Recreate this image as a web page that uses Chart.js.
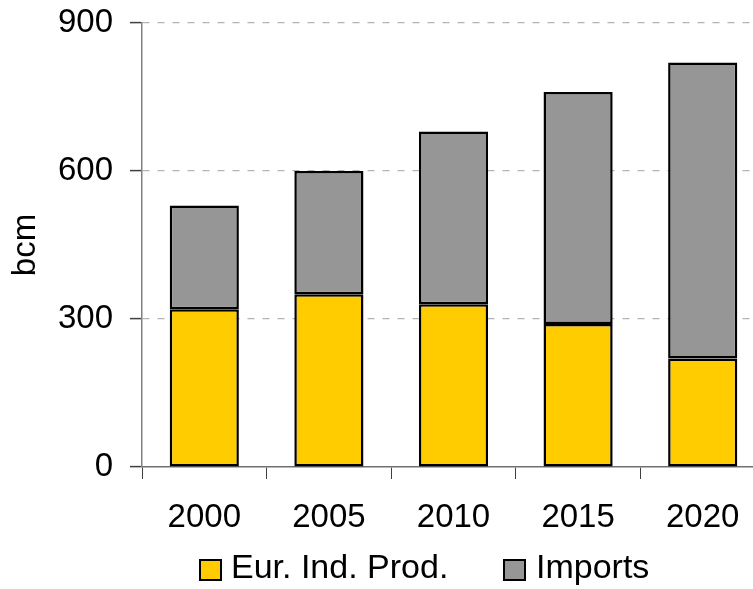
<!DOCTYPE html>
<html>
<head>
<meta charset="utf-8">
<script src="https://cdn.jsdelivr.net/npm/chart.js@4/dist/chart.umd.min.js"></script>
<style>
  html, body { margin: 0; padding: 0; background: #fff; overflow: hidden; }
  #wrap { position: relative; width: 765px; height: 589px; }
</style>
</head>
<body>
<div id="wrap"><canvas id="c"></canvas></div>
<script>
const categories = ['2000', '2005', '2010', '2015', '2020'];
const productionValues = [320, 350, 330, 290, 220];
const importValues = [210, 250, 350, 470, 600];
const seriesNames = ['Eur. Ind. Prod.', 'Imports'];
const yTicks = [0, 300, 600, 900];
const yTitle = 'bcm';

const FONT = '"Liberation Sans", Arial, sans-serif';

const legendPlugin = {
  id: 'customLegend',
  afterDraw(chart) {
    const ctx = chart.ctx;
    const items = [
      { boxX: 200, textX: 231 },
      { boxX: 504, textX: 536 }
    ];
    ctx.save();
    chart.data.datasets.forEach((ds, i) => {
      const it = items[i];
      ctx.fillStyle = ds.backgroundColor;
      ctx.fillRect(it.boxX, 560, 21, 20);
      ctx.lineWidth = 2;
      ctx.strokeStyle = '#000';
      ctx.strokeRect(it.boxX, 560, 21, 20);
      ctx.fillStyle = '#000';
      ctx.font = '34px ' + FONT;
      ctx.textBaseline = 'middle';
      ctx.textAlign = 'left';
      ctx.fillText(ds.label, it.textX, 569);
    });
    ctx.restore();
  }
};

new Chart(document.getElementById('c'), {
  type: 'bar',
  data: {
    labels: categories,
    datasets: [
      { label: seriesNames[0], data: productionValues, backgroundColor: '#FFCC00', borderColor: '#000', borderWidth: 2.5, borderSkipped: false },
      { label: seriesNames[1], data: importValues, backgroundColor: '#969696', borderColor: '#000', borderWidth: 2.5, borderSkipped: false }
    ]
  },
  options: {
    responsive: true,
    maintainAspectRatio: false,
    animation: false,
    layout: { padding: { top: 23, bottom: 52, left: 0, right: 0 } },
    datasets: { bar: { categoryPercentage: 1, barPercentage: 0.555 } },
    plugins: { legend: { display: false }, tooltip: { enabled: false } },
    scales: {
      x: {
        stacked: true,
        grid: { display: true, drawOnChartArea: false, drawTicks: true, tickLength: 12, tickColor: '#404040', offset: true },
        border: { display: true, color: '#707070', width: 1.5 },
        ticks: { color: '#000', font: { family: FONT, size: 33 }, padding: 19, maxRotation: 0 },
        afterFit(scale) { scale.height = 70; scale.paddingLeft = 0; scale.paddingRight = 0; }
      },
      y: {
        stacked: true,
        min: 0, max: 900,
        afterBuildTicks(scale) { scale.ticks = yTicks.map(v => ({ value: v })); },
        grid: {
          color: (c) => (c.tick && c.tick.value === 0) ? 'rgba(0,0,0,0)' : '#b4b4b4',
          lineWidth: 1.2,
          tickLength: 12, tickColor: '#404040', tickBorderDash: [], tickWidth: 1.5
        },
        border: { display: true, color: '#808080', width: 1.5, dash: [7, 8] },
        ticks: { color: '#000', font: { family: FONT, size: 33 }, padding: 17 },
        title: { display: true, text: yTitle, color: '#000', font: { family: FONT, size: 33 }, padding: { top: 6, bottom: 0 } },
        afterFit(scale) { scale.width = 142; scale.paddingTop = 0; scale.paddingBottom = 0; }
      }
    }
  },
  plugins: [legendPlugin]
});
</script>
</body>
</html>
